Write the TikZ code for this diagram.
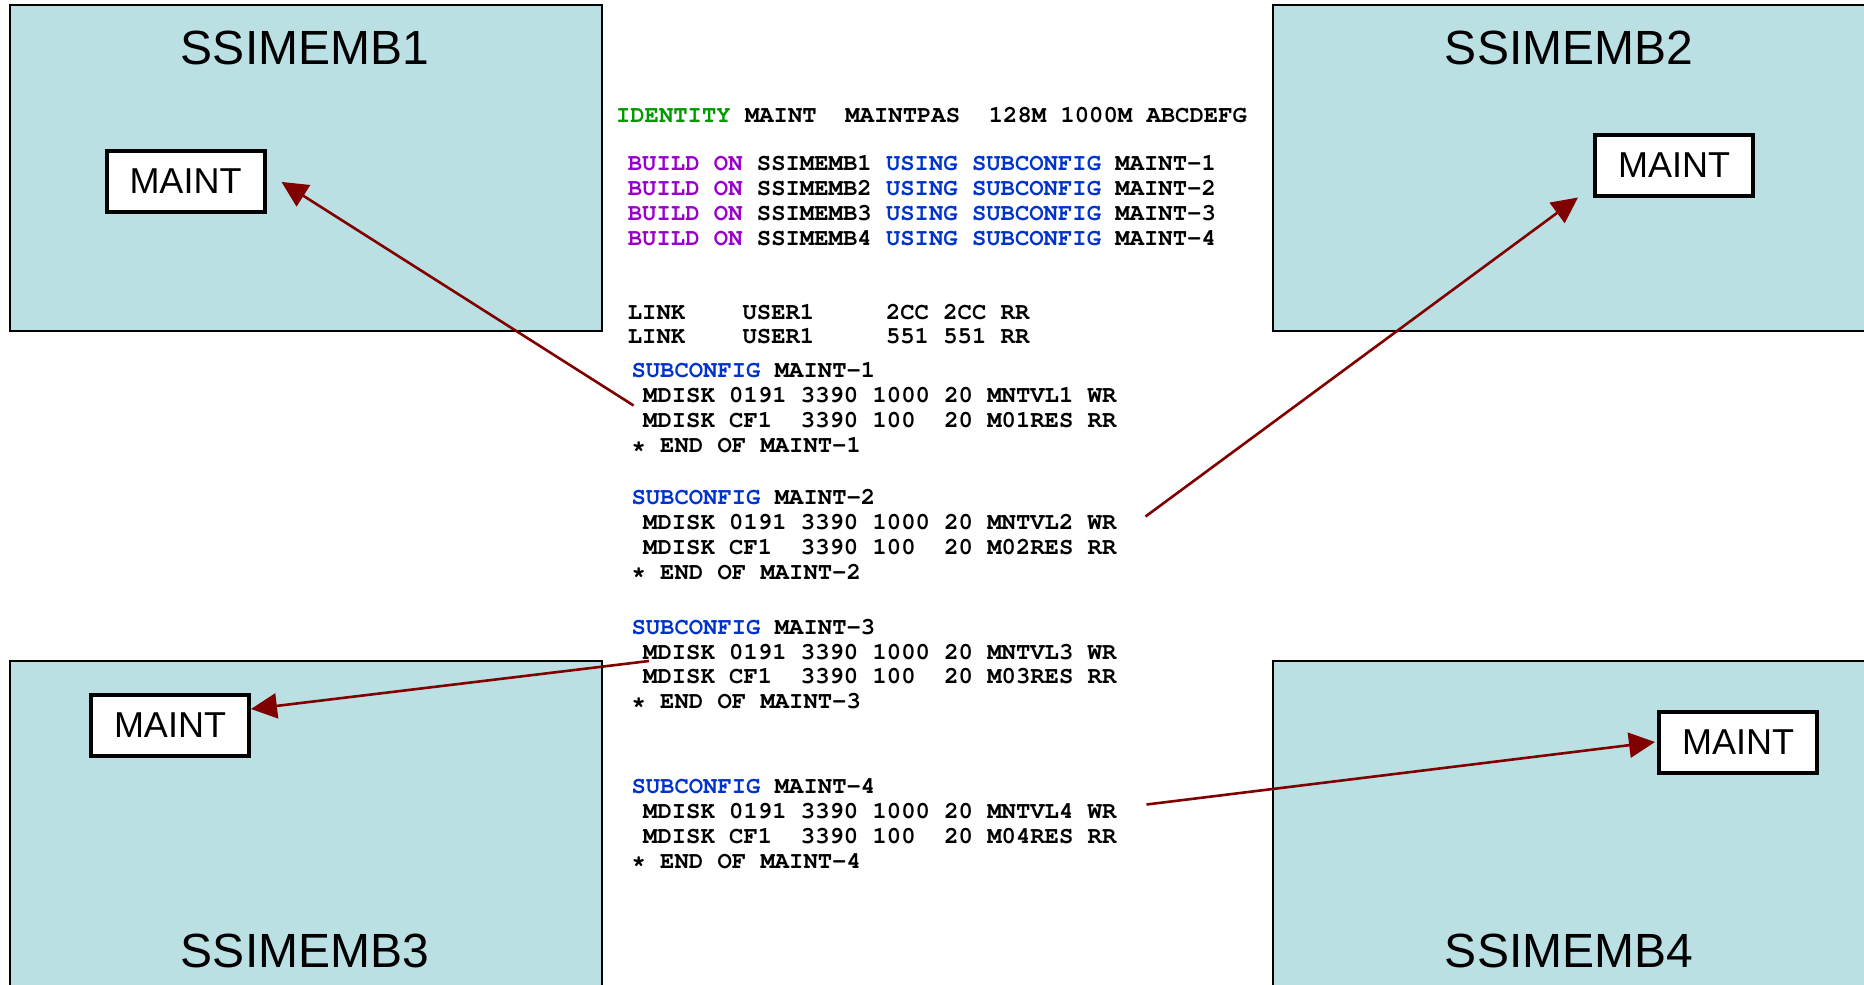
\documentclass[tikz,border=0pt]{standalone}
\usepackage{fontspec}
\setmainfont{Liberation Sans}
\usetikzlibrary{arrows.meta}
\definecolor{boxfill}{RGB}{186,224,227}
\definecolor{arrowred}{RGB}{128,0,0}
\definecolor{kwgreen}{RGB}{0,153,0}
\definecolor{kwpurple}{RGB}{153,0,204}
\definecolor{kwblue}{RGB}{0,51,204}
\newcommand\codefnt{\fontencoding{T1}\fontfamily{pcr}\fontseries{b}\fontsize{23.9}{25}\selectfont}
\newcommand\cdln[4]{\node[codetext] (#1) at (#2,#3+7.5) {#4};}
\newcommand\kg[1]{\textcolor{kwgreen}{#1}}
\newcommand\kp[1]{\textcolor{kwpurple}{#1}}
\newcommand\kb[1]{\textcolor{kwblue}{#1}}
\begin{document}
\begin{tikzpicture}[x=1pt,y=-1pt,
  member/.style={draw=black,line width=2pt,fill=boxfill},
  title/.style={font=\fontsize{48}{52}\selectfont,inner sep=0pt},
  maint/.style={draw=black,line width=4pt,fill=white,minimum width=158pt,minimum height=61pt,inner sep=0pt,font=\fontsize{36}{40}\selectfont},
  codetext/.style={anchor=base west,inner sep=0pt,font=\codefnt},
  link/.style={draw=arrowred,line width=2.6pt,-{Triangle[length=26pt,width=25pt]}}]
\useasboundingbox (0,0) rectangle (1864,985);
\fill[white] (0,0) rectangle (1864,985);
% member boxes
\draw[member] (9.5,4.8) rectangle (601.5,330.5);
\draw[member] (1273,4.8) rectangle (1875,330.5);
\draw[member] (9.5,661) rectangle (601.5,995);
\draw[member] (1273,661) rectangle (1875,995);
\node[title] (T1) at (305,47.5) {SSIMEMB1};
\node[title] (T2) at (1569,47.5) {SSIMEMB2};
\node[title] (T3) at (305,951) {SSIMEMB3};
\node[title] (T4) at (1569,951) {SSIMEMB4};
% MAINT boxes
\node[maint] (M1) at (185.5,181.3) {MAINT};
\node[maint] (M2) at (1674,165) {MAINT};
\node[maint] (M3) at (170,725) {MAINT};
\node[maint] (M4) at (1738,742) {MAINT};
% directory text
\cdln{id}{615.8}{115.3}{\kg{IDENTITY} MAINT\ \ MAINTPAS\ \ 128M 1000M ABCDEFG}
\cdln{b1}{627.7}{162.9}{\kp{BUILD ON} SSIMEMB1 \kb{USING SUBCONFIG} MAINT-1}
\cdln{b2}{627.7}{187.8}{\kp{BUILD ON} SSIMEMB2 \kb{USING SUBCONFIG} MAINT-2}
\cdln{b3}{627.7}{212.8}{\kp{BUILD ON} SSIMEMB3 \kb{USING SUBCONFIG} MAINT-3}
\cdln{b4}{627.7}{237.8}{\kp{BUILD ON} SSIMEMB4 \kb{USING SUBCONFIG} MAINT-4}
\cdln{lk1}{627.7}{311.5}{LINK\ \ \ \ USER1\ \ \ \ \ 2CC 2CC RR}
\cdln{lk2}{627.7}{336.4}{LINK\ \ \ \ USER1\ \ \ \ \ 551 551 RR}
\cdln{sa1}{631.3}{369.7}{\kb{SUBCONFIG} MAINT-1}
\cdln{sa2}{643}{394.7}{MDISK 0191 3390 1000 20 MNTVL1 WR}
\cdln{sa3}{643}{419.6}{MDISK CF1\ \ 3390 100\ \ 20 M01RES RR}
\cdln{sa4}{631.3}{445.3}{* END OF MAINT-1}
\cdln{sb1}{631.3}{496.9}{\kb{SUBCONFIG} MAINT-2}
\cdln{sb2}{643}{521.9}{MDISK 0191 3390 1000 20 MNTVL2 WR}
\cdln{sb3}{643}{546.8}{MDISK CF1\ \ 3390 100\ \ 20 M02RES RR}
\cdln{sb4}{631.3}{571.8}{* END OF MAINT-2}
\cdln{sc1}{631.3}{626.5}{\kb{SUBCONFIG} MAINT-3}
\cdln{sc2}{643}{651.5}{MDISK 0191 3390 1000 20 MNTVL3 WR}
\cdln{sc3}{643}{676.4}{MDISK CF1\ \ 3390 100\ \ 20 M03RES RR}
\cdln{sc4}{631.3}{701.4}{* END OF MAINT-3}
\cdln{sd1}{631.3}{785.8}{\kb{SUBCONFIG} MAINT-4}
\cdln{sd2}{643}{810.8}{MDISK 0191 3390 1000 20 MNTVL4 WR}
\cdln{sd3}{643}{835.7}{MDISK CF1\ \ 3390 100\ \ 20 M04RES RR}
\cdln{sd4}{631.3}{860.7}{* END OF MAINT-4}
% connector start points
\coordinate (s1) at (633.6,405.5);
\coordinate (s2) at (1145.5,516.5);
\coordinate (s3) at (649,661);
\coordinate (s4) at (1146.5,804.5);
% connectors
\draw[link] (s1) -- ([xshift=15pt,yshift=-0.6pt]M1.east);
\draw[link] (s2) -- ([xshift=-15pt]M2.south west);
\draw[link] (s3) -- ([yshift=16pt]M3.east);
\draw[link] (s4) -- ([xshift=-2pt]M4.west);
\end{tikzpicture}
\end{document}
